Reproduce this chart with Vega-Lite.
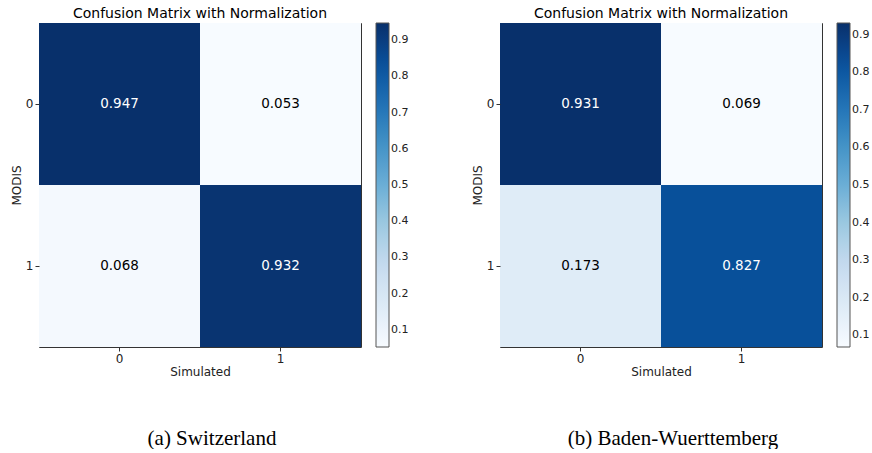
{
  "$schema": "https://vega.github.io/schema/vega-lite/v6.json",
  "padding": {"left": 9, "top": 6, "right": 0, "bottom": 0},
  "datasets": {
    "sw": [
      {"sim": "0", "modis": "0", "v": 0.947},
      {"sim": "1", "modis": "0", "v": 0.053},
      {"sim": "0", "modis": "1", "v": 0.068},
      {"sim": "1", "modis": "1", "v": 0.932}
    ],
    "bw": [
      {"sim": "0", "modis": "0", "v": 0.931},
      {"sim": "1", "modis": "0", "v": 0.069},
      {"sim": "0", "modis": "1", "v": 0.173},
      {"sim": "1", "modis": "1", "v": 0.827}
    ],
    "capA": [{"c": "(a) Switzerland"}],
    "capB": [{"c": "(b) Baden-Wuerttemberg"}]
  },
  "hconcat": [
    {
      "spacing": 50,
      "vconcat": [
        {
          "title": "Confusion Matrix with Normalization",
          "width": 322,
          "height": 324,
          "data": {"name": "sw"},
          "encoding": {
            "x": {"field": "sim", "type": "ordinal", "title": "Simulated", "scale": {"paddingInner": 0, "paddingOuter": 0}, "axis": {"labelAngle": 0}},
            "y": {"field": "modis", "type": "ordinal", "title": "MODIS", "scale": {"paddingInner": 0, "paddingOuter": 0}}
          },
          "layer": [
            {
              "mark": {"type": "rect"},
              "encoding": {
                "color": {
                  "field": "v", "type": "quantitative",
                  "scale": {
                    "domain": [0.053, 0.16475, 0.2765, 0.38825, 0.5, 0.61175, 0.7235, 0.83525, 0.947],
                    "range": ["#f7fbff", "#deebf7", "#c6dbef", "#9ecae1", "#6baed6", "#4292c6", "#2171b5", "#08519c", "#08306b"]
                  },
                  "legend": {"title": null, "values": [0.1, 0.2, 0.3, 0.4, 0.5, 0.6, 0.7, 0.8, 0.9], "format": ".1f"}
                }
              }
            },
            {
              "mark": {"type": "text", "fontSize": 13.5},
              "encoding": {
                "text": {"field": "v", "type": "quantitative", "format": ".3f"},
                "color": {"condition": {"test": "datum.v > 0.5", "value": "white"}, "value": "black"}
              }
            }
          ]
        },
        {
          "width": 322,
          "height": 20,
          "data": {"name": "capA"},
          "view": {"stroke": null},
          "mark": {"type": "text", "font": "Liberation Serif", "fontSize": 21, "dx": 12, "color": "black"},
          "encoding": {"text": {"field": "c", "type": "nominal"}}
        }
      ]
    },
    {
      "spacing": 50,
      "vconcat": [
        {
          "title": "Confusion Matrix with Normalization",
          "width": 322,
          "height": 324,
          "data": {"name": "bw"},
          "encoding": {
            "x": {"field": "sim", "type": "ordinal", "title": "Simulated", "scale": {"paddingInner": 0, "paddingOuter": 0}, "axis": {"labelAngle": 0}},
            "y": {"field": "modis", "type": "ordinal", "title": "MODIS", "scale": {"paddingInner": 0, "paddingOuter": 0}}
          },
          "layer": [
            {
              "mark": {"type": "rect"},
              "encoding": {
                "color": {
                  "field": "v", "type": "quantitative",
                  "scale": {
                    "domain": [0.069, 0.17675, 0.2845, 0.39225, 0.5, 0.60775, 0.7155, 0.82325, 0.931],
                    "range": ["#f7fbff", "#deebf7", "#c6dbef", "#9ecae1", "#6baed6", "#4292c6", "#2171b5", "#08519c", "#08306b"]
                  },
                  "legend": {"title": null, "values": [0.1, 0.2, 0.3, 0.4, 0.5, 0.6, 0.7, 0.8, 0.9], "format": ".1f"}
                }
              }
            },
            {
              "mark": {"type": "text", "fontSize": 13.5},
              "encoding": {
                "text": {"field": "v", "type": "quantitative", "format": ".3f"},
                "color": {"condition": {"test": "datum.v > 0.5", "value": "white"}, "value": "black"}
              }
            }
          ]
        },
        {
          "width": 322,
          "height": 20,
          "data": {"name": "capB"},
          "view": {"stroke": null},
          "mark": {"type": "text", "font": "Liberation Serif", "fontSize": 21, "dx": 12, "color": "black"},
          "encoding": {"text": {"field": "c", "type": "nominal"}}
        }
      ]
    }
  ],
  "spacing": 61,
  "resolve": {"scale": {"color": "independent"}, "legend": {"color": "independent"}},
  "config": {
    "font": "DejaVu Sans",
    "view": {"stroke": "#333", "strokeWidth": 1},
    "title": {"fontSize": 14, "fontWeight": "normal", "color": "black", "offset": 2},
    "axis": {
      "domain": false,
      "grid": false,
      "ticks": true,
      "tickSize": 4,
      "tickColor": "#333",
      "labelFontSize": 12,
      "labelColor": "#222",
      "labelPadding": 2,
      "titleFontSize": 12,
      "titleFontWeight": "normal",
      "titleColor": "#222",
      "titlePadding": 2
    },
    "legend": {
      "orient": "right",
      "offset": 14,
      "direction": "vertical",
      "gradientLength": 324,
      "gradientThickness": 13,
      "gradientStrokeColor": "#555",
      "gradientStrokeWidth": 1,
      "labelFontSize": 11,
      "labelColor": "#222",
      "labelOffset": 8
    }
  }
}
